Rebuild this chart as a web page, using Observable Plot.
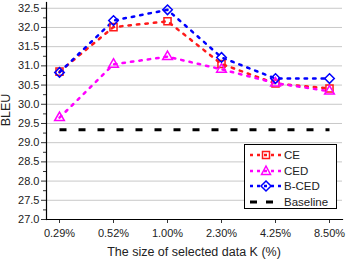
<!DOCTYPE html>
<html>
<head>
<meta charset="utf-8">
<script src="https://cdn.jsdelivr.net/npm/d3@7"></script>
<script src="https://cdn.jsdelivr.net/npm/@observablehq/plot@0.6"></script>
<style>
  html, body { margin: 0; padding: 0; background: #fff; }
  #wrap { position: relative; width: 347px; height: 260px; font-family: "Liberation Sans", Arial, sans-serif; overflow: hidden; }
  #ylabel { position: absolute; left: 0px; top: 110px; writing-mode: vertical-rl; transform: translateY(-50%) rotate(180deg); font-size: 12.5px; line-height: 12px; color: #222; white-space: nowrap; }
  #xlabel { position: absolute; left: 194px; top: 252px; transform: translate(-50%, -50%); font-size: 12.5px; color: #222; white-space: nowrap; }
  #legend { position: absolute; left: 244px; top: 144px; width: 93px; height: 65px; border: 1px solid #000; background: #fff; box-sizing: border-box; }
  .row { position: absolute; left: 0; height: 16px; font-size: 11.5px; line-height: 16px; color: #222; }
  .row svg { position: absolute; left: 5px; top: 0; }
  .row span { position: absolute; left: 39px; top: 0; white-space: nowrap; }
</style>
</head>
<body>
<div id="wrap"></div>
<script>
const categories = ["0.29%", "0.52%", "1.00%", "2.30%", "4.25%", "8.50%"];
const ceValues = [30.85, 32.01, 32.16, 31.05, 30.54, 30.41];
const cedValues = [29.65, 31.04, 31.24, 30.91, 30.55, 30.34];
const bcedValues = [30.83, 32.18, 32.46, 31.22, 30.67, 30.67];
const baselineValue = 29.34;
const yTicks = [27.0, 27.5, 28.0, 28.5, 29.0, 29.5, 30.0, 30.5, 31.0, 31.5, 32.0, 32.5];
const yMinorTicks = [27.25, 27.75, 28.25, 28.75, 29.25, 29.75, 30.25, 30.75, 31.25, 31.75, 32.25];
const seriesNames = ["CE", "CED", "B-CED", "Baseline"];
const seriesColors = ["#ff1a1a", "#ff00ff", "#0000ff", "#000000"];
const yLabel = "BLEU";
const xLabel = "The size of selected data K (%)";

const ce = categories.map((k, i) => ({k, v: ceValues[i]}));
const ced = categories.map((k, i) => ({k, v: cedValues[i]}));
const bced = categories.map((k, i) => ({k, v: bcedValues[i]}));
const base = categories.map(k => ({k, v: baselineValue}));

const chart = Plot.plot({
  width: 347,
  height: 260,
  marginLeft: 46,
  marginRight: 5,
  marginTop: 2,
  marginBottom: 41,
  style: {fontFamily: "Liberation Sans, Arial, sans-serif", background: "#fff", color: "#222"},
  x: {type: "point", domain: categories, padding: 0.2},
  y: {domain: [27, 32.65]},
  marks: [
    Plot.gridY(yTicks, {stroke: "#c8c8c8", strokeOpacity: 1, strokeWidth: 1}),
    Plot.axisY(yMinorTicks, {tickSize: 3, text: null, label: null, stroke: "#333"}),
    Plot.axisY(yTicks, {tickSize: 5, tickFormat: d => d.toFixed(1), fontSize: 11, tickPadding: 2, label: null, stroke: "#333"}),
    Plot.axisX({tickSize: 4, fontSize: 11, tickPadding: 6, label: null, stroke: "#333"}),
    Plot.frame({anchor: "left", stroke: "#000", strokeWidth: 1.2}),
    Plot.frame({anchor: "bottom", stroke: "#000", strokeWidth: 1.2}),
    Plot.line(base, {x: "k", y: "v", stroke: seriesColors[3], strokeWidth: 3, strokeDasharray: "7,12", strokeLinecap: "butt"}),
    Plot.line(ce, {x: "k", y: "v", stroke: seriesColors[0], strokeWidth: 2.5, strokeDasharray: "2.5,6"}),
    Plot.line(ced, {x: "k", y: "v", stroke: seriesColors[1], strokeWidth: 2.5, strokeDasharray: "2.5,6"}),
    Plot.line(bced, {x: "k", y: "v", stroke: seriesColors[2], strokeWidth: 2.5, strokeDasharray: "2.5,6"}),
    Plot.dot(ce, {x: "k", y: "v", symbol: "square", r: 4, stroke: seriesColors[0], strokeWidth: 1.5, fill: "none"}),
    Plot.dot(ced, {x: "k", y: "v", symbol: "triangle", r: 3.6, stroke: seriesColors[1], strokeWidth: 1.5, fill: "none"}),
    Plot.dot(bced, {x: "k", y: "v", symbol: "diamond2", r: 4.3, stroke: seriesColors[2], strokeWidth: 1.5, fill: "none"})
  ]
});

const wrap = document.getElementById("wrap");
wrap.appendChild(chart);

const yl = document.createElement("div");
yl.id = "ylabel";
yl.textContent = yLabel;
wrap.appendChild(yl);
const xl = document.createElement("div");
xl.id = "xlabel";
xl.textContent = xLabel;
wrap.appendChild(xl);

// legend
const legend = document.createElement("div");
legend.id = "legend";
const symbolPaths = {
  "CE": '<rect x="12.5" y="4.5" width="7" height="7" fill="none" stroke-width="1.5"/>',
  "CED": '<path d="M16,3 L20.5,11.5 L11.5,11.5 Z" fill="none" stroke-width="1.5"/>',
  "B-CED": '<path d="M16,3 L21,8 L16,13 L11,8 Z" fill="none" stroke-width="1.5"/>',
  "Baseline": ''
};
seriesNames.forEach((name, i) => {
  const row = document.createElement("div");
  row.className = "row";
  row.style.top = (2 + i * 15.7) + "px";
  const c = seriesColors[i];
  const dash = name === "Baseline" ? 'stroke-dasharray="7,9" stroke-width="3"' : 'stroke-dasharray="3,4" stroke-width="2.5"';
  row.innerHTML = `<svg width="34" height="16" stroke="${c}"><line x1="0" x2="32" y1="8" y2="8" ${dash}/>${symbolPaths[name]}</svg><span>${name}</span>`;
  legend.appendChild(row);
});
wrap.appendChild(legend);
</script>
</body>
</html>
